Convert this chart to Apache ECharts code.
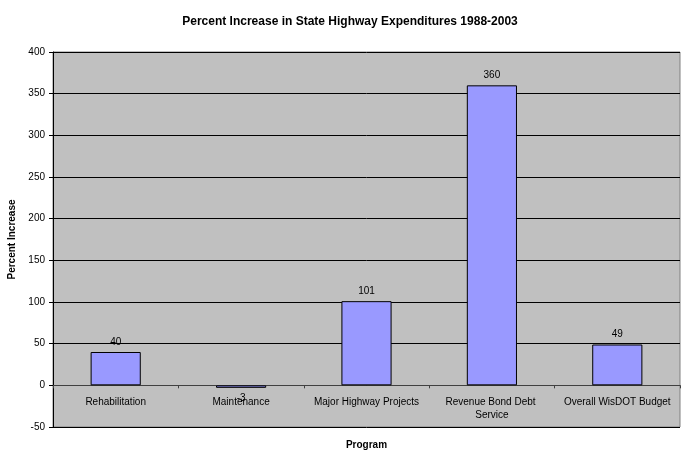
<!DOCTYPE html>
<html><head><meta charset="utf-8">
<script src="https://cdn.jsdelivr.net/npm/echarts@6/dist/echarts.min.js"></script>
<style>html,body{margin:0;padding:0;background:#fff}#c{width:682px;height:450px}</style>
</head><body><div id="c"></div>
<script>
const categories = ['Rehabilitation', 'Maintenance', 'Major Highway Projects', 'Revenue Bond Debt Service', 'Overall WisDOT Budget'];
const values = [40, -3, 101, 360, 49];
const yTicks = { min: -50, max: 400, interval: 50 };
const titleText = 'Percent Increase in State Highway Expenditures 1988-2003';
const xName = 'Program';
const yName = 'Percent Increase';

const FONT = 'Arial, "Liberation Sans", sans-serif';
const GRID = { left: 53, right: 2, top: 52, bottom: 23 };
const plotH = 450 - GRID.top - GRID.bottom;
// distance of the zero line above the plot bottom, derived from the axis range
const zeroOffset = plotH * (0 - yTicks.min) / (yTicks.max - yTicks.min);

const chart = echarts.init(document.getElementById('c'), null, { renderer: 'canvas' });
chart.setOption({
  animation: false,
  backgroundColor: '#ffffff',
  title: {
    text: titleText, left: 345, textAlign: 'center', top: 11,
    textStyle: { fontFamily: FONT, fontSize: 12, fontWeight: 'bold', color: '#000' }
  },
  grid: {
    left: GRID.left, right: GRID.right, top: GRID.top, bottom: GRID.bottom,
    containLabel: false, outerBoundsMode: 'none',
    show: true, backgroundColor: '#C0C0C0', borderColor: '#808080', borderWidth: 1
  },
  xAxis: {
    type: 'category', data: categories, position: 'bottom', offset: -zeroOffset,
    name: xName, nameLocation: 'middle', nameGap: 55,
    nameTextStyle: { fontFamily: FONT, fontSize: 10, fontWeight: 'bold', color: '#000' },
    axisLine: { onZero: false, lineStyle: { color: '#404040', width: 1 } },
    axisTick: { show: true, length: 3, lineStyle: { color: '#404040' } },
    axisLabel: { interval: 0, margin: 10, width: 120, overflow: 'break', fontFamily: FONT, fontSize: 10, color: '#000', lineHeight: 13 },
    splitLine: { show: false }
  },
  yAxis: {
    type: 'value', min: yTicks.min, max: yTicks.max, interval: yTicks.interval,
    name: yName, nameLocation: 'middle', nameGap: 30, nameRotate: 90,
    nameTextStyle: { fontFamily: FONT, fontSize: 10, fontWeight: 'bold', color: '#000' },
    axisLine: { show: true, lineStyle: { color: '#000', width: 1 } },
    axisTick: { show: true, length: 4, lineStyle: { color: '#000' } },
    axisLabel: { margin: 8, fontFamily: FONT, fontSize: 10, color: '#000' },
    splitLine: { show: true, lineStyle: { color: '#000', width: 1 } }
  },
  series: [{
    type: 'bar',
    data: values.map(v => ({ value: v, label: { position: v < 0 ? 'bottom' : 'top' } })),
    barCategoryGap: '60%',
    itemStyle: { color: '#9999FF', borderColor: '#000', borderWidth: 1 },
    label: { show: true, distance: 5, fontFamily: FONT, fontSize: 10, color: '#000' }
  }]
});
</script></body></html>
